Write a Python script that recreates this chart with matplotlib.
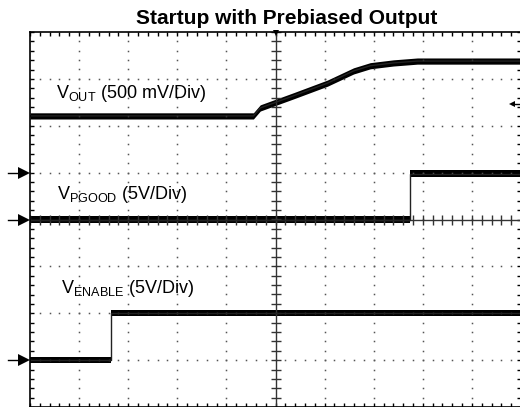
import numpy as np
import matplotlib
matplotlib.use("Agg")
import matplotlib.pyplot as plt
from matplotlib.ticker import MultipleLocator

plt.rcParams['font.family'] = ['Liberation Sans', 'DejaVu Sans']
plt.rcParams['mathtext.fontset'] = 'custom'
plt.rcParams['mathtext.rm'] = 'Liberation Sans'

# ---- data (time and amplitude in scope divisions) ----
vout_t = [-5.0, -0.45, -0.31, 0.37, 1.06, 1.59, 1.93, 2.40, 2.89, 5.0]
vout_v = [2.21, 2.21, 2.38, 2.64, 2.91, 3.17, 3.28, 3.34, 3.38, 3.38]

pgood_t = [-5.0, 2.73, 2.73, 5.0]
pgood_v = [0.0, 0.0, 0.98, 0.98]

enable_t = [-5.0, -3.36, -3.36, 5.0]
enable_v = [-3.0, -3.0, -2.0, -2.0]

channel_markers = [1.0, 0.0, -3.0]
trigger_level = 2.47

title = "Startup with Prebiased Output"
labels = [r"V$_{\mathrm{OUT}}$ (500 mV/Div)",
          r"V$_{\mathrm{PGOOD}}$ (5V/Div)",
          r"V$_{\mathrm{ENABLE}}$ (5V/Div)"]
label_pos = [(-4.48, 2.60), (-4.44, 0.43), (-4.36, -1.57)]

W, H = 520, 407
fig = plt.figure(figsize=(W / 100, H / 100), dpi=100)
ax = fig.add_axes([30 / W, 0.0, 491 / W, 375 / H])
ax.set_xlim(-5, 5)
ax.set_ylim(-4, 4)

# dotted graticule
grid_color = '#555555'
minor = np.arange(-5, 5.001, 0.2)
minor_y = np.arange(-4, 4.001, 0.2)
for gx in range(-4, 5):
    if gx == 0:
        continue
    ax.plot(np.full_like(minor_y, gx), minor_y, ls='none', marker='s',
            ms=1.1, mew=0, color=grid_color)
for gy in range(-3, 4):
    if gy == 0:
        continue
    ax.plot(minor, np.full_like(minor, gy), ls='none', marker='s',
            ms=1.1, mew=0, color=grid_color)

# center axes with crossing ticks
ax.axhline(0, color='#333333', lw=1.0)
ax.axvline(0, color='#333333', lw=1.0)
ax.plot(minor, np.zeros_like(minor), ls='none', marker='|', ms=7,
        mew=1.0, color='#333333')
ax.plot(np.zeros_like(minor_y), minor_y, ls='none', marker='_', ms=7,
        mew=1.0, color='#333333')

# traces
half = 0.066
for t, v in [(vout_t, vout_v), (pgood_t, pgood_v), (enable_t, enable_v)]:
    t = np.asarray(t)
    v = np.asarray(v)
    ax.fill_between(t, v - half, v + half, color='black', lw=0)
    ax.plot(t, v, color='#222222', lw=1.0)

# channel ground markers (left, outside)
for y in channel_markers:
    ax.plot([-5.45, -5.15], [y, y], color='black', lw=1.0, clip_on=False)
    ax.plot([-5.12], [y], marker='>', ms=8, color='black', mew=0,
            clip_on=False)

# trigger level marker (right)
ax.plot([4.82, 5.1], [trigger_level, trigger_level], color='black', lw=1.0,
        clip_on=False)
ax.plot([4.82], [trigger_level], marker='<', ms=5, color='black', mew=0,
        clip_on=False)
# trigger position marker (top)
ax.plot([0], [3.97], marker='v', ms=5, color='black', mew=0, clip_on=False)

# labels
for txt, (x, y) in zip(labels, label_pos):
    ax.text(x, y, txt, fontsize=13, ha='left', va='baseline', color='black')

fig.text(287 / W, 1 - 24 / H, title, ha='center', va='baseline',
         fontsize=15, fontweight='bold')

# frame and ticks
for s in ax.spines.values():
    s.set_linewidth(1.2)
    s.set_color('black')
ax.xaxis.set_major_locator(MultipleLocator(1))
ax.yaxis.set_major_locator(MultipleLocator(1))
ax.xaxis.set_minor_locator(MultipleLocator(0.2))
ax.yaxis.set_minor_locator(MultipleLocator(0.2))
ax.tick_params(which='both', direction='in', top=True, right=True,
               length=3.2, width=1.0, labelbottom=False, labelleft=False)

fig.savefig('out.png', dpi=100)
